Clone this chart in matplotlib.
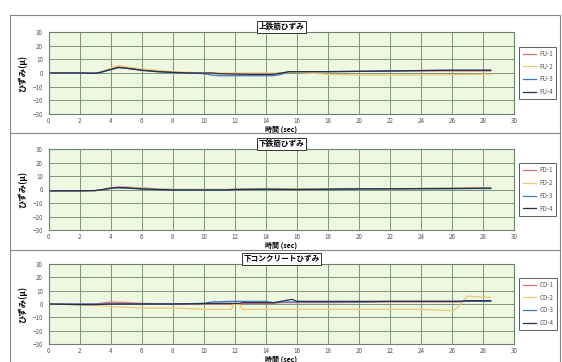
import matplotlib
matplotlib.use("Agg")
import matplotlib.pyplot as plt
from matplotlib.lines import Line2D
from matplotlib.patches import Rectangle

plt.rcParams['font.family'] = ['Noto Sans CJK JP', 'DejaVu Sans']

# ---------------- data ----------------
titles = ["上鉄筋ひずみ", "下鉄筋ひずみ", "下コンクリートひずみ"]
labels_top = ["FU-1", "FU-2", "FU-3", "FU-4"]
labels_mid = ["FD-1", "FD-2", "FD-3", "FD-4"]
labels_bot = ["CD-1", "CD-2", "CD-3", "CD-4"]
xticks = [0, 2, 4, 6, 8, 10, 12, 14, 16, 18, 20, 22, 24, 26, 28, 30]
yticks = [-30, -20, -10, 0, 10, 20, 30]

t_top = [0, 1, 2, 3, 3.3, 4, 4.5, 5, 6, 7, 8, 9, 10, 10.5, 11, 12, 13, 14, 14.5, 15, 15.5, 16, 18, 20, 22, 24, 26, 28, 28.5]
fu1 = [0, 0, 0, 0, 0.5, 3, 4.5, 4, 2.5, 1.5, 0.5, 0, 0, 0, -0.5, -0.5, -0.5, -0.5, -0.5, 0, 0.5, 1, 1, 1.2, 1.5, 1.5, 1.5, 1.5, 1.5]
fu2 = [0, 0, 0, 0, 0.5, 3.5, 5.5, 4.5, 3, 2, 1, 0.5, 0, 0, 0, 0, 0, 0, 0, 0, 0.5, 0.5, -1, -1.5, -1.5, -1.5, -1.2, -1, -1]
fu3 = [0, 0, 0, 0, 0.3, 2.5, 4, 3.5, 2, 1, 0.3, 0, -0.5, -1.5, -2, -2, -2, -2, -2, -1, 1, 1, 1, 1.2, 1.5, 1.8, 2, 2, 2]
fu4 = [0, 0, 0, -0.3, 0.3, 2.5, 4, 3.5, 2, 1, 0.5, 0, 0, 0, -0.5, -0.8, -1, -1, -1, 0, 1, 1, 1, 1.2, 1.5, 1.8, 2, 2, 2]

t_mid = [0, 1, 2, 3, 3.5, 4, 4.5, 5, 6, 7, 8, 10, 11.5, 12, 14, 16, 18, 20, 22, 24, 26, 28, 28.5]
fd1 = [-1, -1, -1, -0.8, 0, 1.2, 1.8, 1.8, 1.2, 0.5, 0, 0, 0, 0.3, 0.3, 0.3, 0.3, 0.5, 0.5, 0.7, 0.8, 1, 1]
fd2 = [-1, -1, -1, -0.8, 0, 1, 1.5, 1.5, 1, 0.3, 0, 0, 0, 0.3, 0.3, 0.3, 0.3, 0.5, 0.5, 0.7, 0.8, 1, 1]
fd3 = [-1, -1, -1, -0.8, -0.2, 0.8, 1.2, 1, 0.3, 0, -0.5, -0.5, -0.5, 0, 0, 0, 0, 0.3, 0.5, 0.5, 0.5, 0.7, 0.7]
fd4 = [-1, -1, -1, -0.8, 0, 1, 1.5, 1.3, 0.5, 0, -0.3, -0.3, -0.3, 0, 0.3, 0, 0.3, 0.5, 0.5, 0.7, 0.8, 1, 1]

t_bot = [0, 2, 3, 4, 5, 6, 8, 10, 10.5, 11.8, 11.9, 12.3, 12.5, 14, 14.5, 15, 15.7, 16, 18, 20, 22, 24, 25.9, 26.1, 26.5, 27, 28, 28.5]
cd1 = [0, 0, 0, 1.5, 1, 0.5, 0, 0, 0, 0, 0, 0, 0.5, 0.5, 0.5, 1, 1, 1, 1, 1.2, 1.5, 1.5, 1.5, 1.5, 1.5, 2, 2, 2]
cd2 = [0, -0.5, -1, -2, -2.5, -3, -3, -4, -4, -4, 0, 0, -4, -4, -4, -4, -4, -4, -4, -4, -4, -4, -5, -5, -1, 6, 5, 5]
cd3 = [0, 0, 0, 0, 0, 0, 0, 0.5, 1.5, 2, 2, 2, 2, 2, 1, 1.5, 1.5, 1.5, 1.5, 1.5, 2, 2, 2, 2, 2, 2, 2, 2]
cd4 = [0, -0.5, -0.5, 0, 0, 0, 0, 0.3, 0.5, 0.5, 0.5, 0.5, 1, 1, 1, 2, 3.5, 2, 2, 2, 2, 2, 2, 2, 2, 2.5, 2.5, 2.5]

colors = ["#e0707a", "#f0c870", "#3a78c0", "#2a2e48"]

panels = [
    (t_top, [fu1, fu2, fu3, fu4], labels_top),
    (t_mid, [fd1, fd2, fd3, fd4], labels_mid),
    (t_bot, [cd1, cd2, cd3, cd4], labels_bot),
]

W, H = 562, 362
fig = plt.figure(figsize=(W / 100, H / 100), dpi=100)
fig.patch.set_facecolor("white")

def fx(px):
    return px / W

def fy(py):
    return 1 - py / H

# outer frame and separators
fig.add_artist(Rectangle((fx(10), fy(362)), fx(550), (362 - 15) / H,
                         transform=fig.transFigure, fill=False, edgecolor="#888888", lw=0.8))
for sy in [133, 250]:
    fig.add_artist(Line2D([fx(10), fx(560)], [fy(sy), fy(sy)], transform=fig.transFigure,
                          color="#888888", lw=0.8))

boxes = [(32, 114), (149, 230), (264, 344)]
left_px, right_px = 48.5, 514

for i, ((t, series, labs), (top, bot), title) in enumerate(zip(panels, boxes, titles)):
    ax = fig.add_axes([fx(left_px), fy(bot), fx(right_px - left_px), (bot - top) / H])
    ax.set_facecolor("#eef8e0")
    for y, c, lab in zip(series, colors, labs):
        ax.plot(t, y, color=c, lw=0.9, label=lab)
    ax.set_xlim(0, 30)
    ax.set_ylim(-30, 30)
    ax.set_xticks(xticks)
    ax.set_yticks(yticks)
    ax.tick_params(axis="y", length=0, labelsize=4.5, colors="#555555", pad=4)
    ax.tick_params(axis="x", length=0, labelsize=4.5, colors="#555555", pad=2.5)
    ax.grid(True, color="#7c9478", lw=0.7)
    for s in ax.spines.values():
        s.set_color("#708070")
        s.set_linewidth(0.8)
    ax.set_xlabel("時間 (sec)", fontsize=5, fontweight="bold", labelpad=0)
    ax.set_ylabel("ひずみ(μ)", fontsize=6, fontweight="bold", labelpad=4)
    ax.text(0.5, 1.01, title, transform=ax.transAxes, ha="center", va="bottom",
            fontsize=5.5, fontweight="bold",
            bbox=dict(boxstyle="square,pad=0.2", fc="white", ec="#333333", lw=0.7))
    leg = ax.legend(loc="center left", bbox_to_anchor=(1.005, 0.5), fontsize=4.5,
                    frameon=True, fancybox=False, edgecolor="#333333",
                    handlelength=2.2, handletextpad=0.5, borderpad=0.5, labelspacing=0.75)
    leg.get_frame().set_linewidth(0.7)
    for txt in leg.get_texts():
        txt.set_color("#555555")

fig.savefig("out.png", dpi=100)
